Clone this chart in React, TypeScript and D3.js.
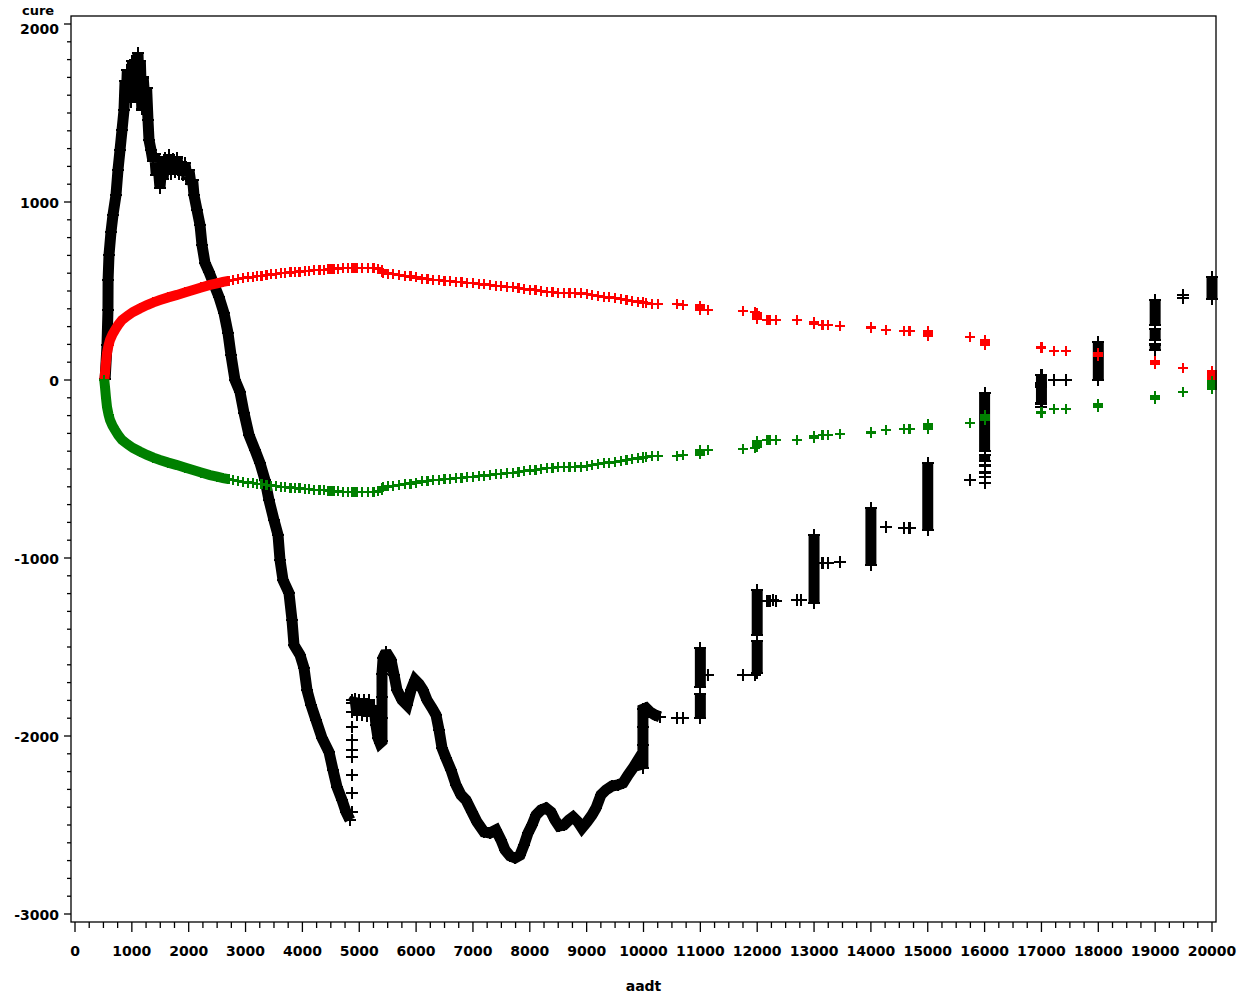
import React from 'react';
import * as d3 from 'd3';

type Pt = [number, number];

// ---------- axis values ----------
const xTickValues: number[] = [0, 1000, 2000, 3000, 4000, 5000, 6000, 7000, 8000, 9000, 10000, 11000, 12000, 13000, 14000, 15000, 16000, 17000, 18000, 19000, 20000];
const yTickValues: number[] = [-3000, -2000, -1000, 0, 1000, 2000];
const xMinorStep = 250;
const yMinorStep = 100;
const xLabel = 'aadt';
const yLabel = 'cure';

// ---------- CURE (cumulative residuals), black ----------
// dense band: rise to the peak and long descent (aadt 500 – 4840)
const cureRise: Pt[] = [
  [530, 5], [563, 197], [580, 393], [582, 562], [598, 702], [633, 831], [668, 927], [721, 1039], [756, 1180],
  [792, 1292], [827, 1404], [862, 1517], [880, 1680], [900, 1560], [920, 1740], [945, 1590], [967, 1720],
  [990, 1560], [1010, 1790], [1040, 1610], [1060, 1800], [1080, 1660], [1108, 1835], [1130, 1610],
  [1150, 1790], [1175, 1520], [1200, 1700], [1231, 1560], [1260, 1640], [1284, 1461],
  [1302, 1348], [1337, 1292], [1370, 1230], [1400, 1270], [1430, 1150], [1460, 1210], [1495, 1079],
  [1520, 1180], [1550, 1130], [1583, 1250], [1620, 1180], [1653, 1262], [1690, 1160], [1724, 1240],
  [1760, 1170], [1794, 1250], [1830, 1160], [1865, 1225], [1900, 1150], [1935, 1220], [1970, 1130],
  [2005, 1180], [2040, 1100], [2070, 1124], [2093, 1039], [2146, 955],
  [2199, 871], [2234, 758], [2287, 657], [2357, 607], [2427, 551], [2533, 466], [2621, 376], [2691, 264],
  [2744, 140], [2814, 0], [2902, -67], [2973, -185], [3061, -309], [3166, -393], [3254, -466], [3342, -562],
  [3412, -674], [3500, -787], [3571, -871], [3606, -1011], [3659, -1124], [3764, -1197], [3817, -1348],
  [3852, -1489], [3958, -1545], [4028, -1618], [4081, -1742], [4151, -1826], [4239, -1910], [4345, -2011],
  [4468, -2090], [4538, -2191], [4609, -2287], [4697, -2360], [4767, -2427], [4837, -2472],
];

// jump column at aadt ~4870 (separate observations)
const cureJump: Pt[] = [
  [4870, -1798], [4870, -1865], [4870, -1949], [4870, -2022], [4870, -2079], [4870, -2118], [4870, -2219],
  [4870, -2320], [4870, -2427],
];

// dense band: second part (aadt 4880 – 10300)
const cureTrough: Pt[] = [
  [4880, -1815], [4925, -1790], [4960, -1880], [5000, -1800], [5048, -1880], [5090, -1795], [5130, -1885],
  [5170, -1800], [5210, -1880], [5259, -1830], [5294, -1938], [5330, -2011], [5365, -2040],
  [5400, -2030], [5400, -1900], [5400, -1780], [5400, -1650],
  [5420, -1560], [5471, -1528], [5559, -1573], [5612, -1657], [5664, -1742], [5752, -1798], [5840, -1826],
  [5910, -1742], [5981, -1685], [6051, -1708], [6121, -1742], [6192, -1798], [6280, -1843], [6350, -1882],
  [6403, -1966], [6456, -2067], [6526, -2124], [6614, -2191], [6702, -2275], [6790, -2331], [6878, -2360],
  [6983, -2427], [7071, -2483], [7194, -2539], [7300, -2545], [7405, -2528], [7493, -2584], [7564, -2640],
  [7652, -2674], [7740, -2685], [7828, -2669], [7898, -2612], [7968, -2545], [8039, -2500], [8109, -2444],
  [8197, -2416], [8285, -2405], [8373, -2427], [8443, -2472], [8514, -2506], [8602, -2500], [8690, -2472],
  [8760, -2455], [8848, -2483], [8918, -2517], [9006, -2483], [9094, -2444], [9164, -2405], [9252, -2331],
  [9340, -2303], [9446, -2281], [9552, -2275], [9640, -2264], [9728, -2219], [9816, -2180], [9904, -2135],
  [9990, -2180], [9990, -2050], [9990, -1950], [9990, -1850], [10044, -1843], [10114, -1865], [10202, -1882],
  [10290, -1893],
];

// stacks of observations sharing one aadt (upper aadt range)
const cureStacks: Pt[][] = [
  [[11000, -1899], [11000, -1762]],
  [[11000, -1725], [11000, -1506]],
  [[12000, -1646], [12000, -1468]],
  [[12000, -1432], [12000, -1180]],
  [[13000, -1253], [13000, -871]],
  [[14000, -1040], [14000, -720]],
  [[15000, -843], [15000, -466]],
  [[16000, -400], [16000, -73]],
  [[16000, -455], [16000, -420]],
  [[17000, -20], [17000, 28]],
  [[17000, -132], [17000, -36]],
  [[18000, 0], [18000, 213]],
  [[19000, 310], [19000, 449]],
  [[19000, 225], [19000, 285]],
  [[19000, 169], [19000, 200]],
  [[20000, 455], [20000, 579]],
];

// single observations (upper aadt range)
const cureSingles: Pt[] = [
  [10590, -1899], [10700, -1899], [11130, -1657], [11750, -1657], [11960, -1657], [12180, -1240],
  [12230, -1240], [12280, -1236], [12330, -1240], [12700, -1236], [12770, -1236], [13150, -1028],
  [13250, -1028], [13450, -1022], [14270, -826], [14580, -832], [14680, -832], [15740, -562],
  [16000, -480], [16000, -520], [16000, -545], [16000, -579], [17000, -150], [17220, 0], [17430, 0],
  [19490, 478], [19490, 461],
];

// ---------- ±2σ bounds (red upper / green lower) ----------
const boundDense: Pt[] = [
  [515, 0], [528, 40], [545, 100], [563, 152], [590, 195], [616, 225], [660, 257], [704, 281], [760, 310],
  [827, 337], [920, 360], [1020, 382], [1140, 402], [1266, 421], [1380, 436], [1495, 449], [1640, 464],
  [1794, 478], [1930, 492], [2076, 506], [2220, 520], [2375, 534], [2500, 543], [2603, 551], [2700, 557],
];

const boundPoints: Pt[] = [
  [2780, 562], [2870, 567], [2950, 571], [3050, 576], [3130, 580], [3200, 583], [3280, 586], [3370, 590],
  [3450, 593], [3540, 596], [3620, 599], [3700, 601], [3790, 604], [3870, 607], [3950, 609], [4040, 612],
  [4120, 614], [4200, 616], [4300, 618], [4380, 620], [4460, 622], [4500, 623], [4520, 624], [4550, 624],
  [4630, 626], [4720, 628], [4800, 629], [4870, 630], [4900, 630], [4950, 630], [5050, 629], [5150, 628],
  [5250, 627], [5330, 626], [5400, 620], [5400, 612], [5400, 605], [5420, 600], [5500, 598], [5600, 594],
  [5700, 590], [5800, 586], [5900, 582], [6000, 576], [6100, 570], [6200, 567], [6300, 563], [6400, 560],
  [6500, 558], [6600, 555], [6700, 552], [6800, 550], [6900, 547], [7000, 545], [7100, 541], [7200, 537],
  [7300, 534], [7400, 530], [7500, 527], [7600, 524], [7700, 521], [7800, 517], [7900, 513], [8000, 508],
  [8100, 504], [8200, 499], [8300, 495], [8400, 493], [8500, 491], [8600, 490], [8700, 489], [8800, 488],
  [8900, 486], [9000, 482], [9100, 477], [9200, 472], [9300, 468], [9400, 464], [9500, 460], [9600, 456],
  [9700, 451], [9800, 446], [9900, 441], [9990, 437], [9990, 432], [10050, 431], [10150, 429], [10250, 426],
  [10590, 425], [10700, 423], [11000, 418], [11000, 410], [11000, 402], [11000, 395], [11130, 392],
  [11750, 388], [11960, 382], [12000, 374], [12000, 366], [12000, 358], [12000, 350], [12000, 343],
  [12180, 337], [12230, 337], [12330, 337], [12700, 335], [13000, 326], [13000, 320], [13000, 314],
  [13150, 309], [13250, 309], [13450, 303], [14000, 297], [14000, 290], [14270, 281], [14580, 275],
  [14680, 275], [15000, 275], [15000, 266], [15000, 257], [15000, 248], [15740, 242], [16000, 222],
  [16000, 214], [16000, 206], [16000, 198], [17000, 186], [17000, 178], [17220, 163], [17430, 163],
  [18000, 152], [18000, 144], [18000, 136], [19000, 108], [19000, 98], [19000, 88], [19490, 67],
  [20000, 52], [20000, 44], [20000, 36], [20000, 28], [20000, 20], [20000, 12], [20000, 4],
];

// ---------- layout ----------
const W = 1243;
const H = 994;
const x = d3.scaleLinear().domain([0, 20000]).range([75, 1212]);
const y = d3.scaleLinear().domain([-3000, 2000]).range([914, 24]);
const frame = { left: x(0) - 4, right: x(20000) + 4, top: y(2000) - 8, bottom: y(-3000) + 8 };

const BLACK = '#000000';
const RED = '#ff0000';
const GREEN = '#008000';
const FONT = '"DejaVu Sans", Verdana, sans-serif';

const line = d3.line<Pt>().x((d) => x(d[0])).y((d) => y(d[1]));
const plusPath = (pts: Pt[], s: number) =>
  pts.map(([a, b]) => `M${x(a) - s},${y(b)}h${2 * s}M${x(a)},${y(b) - s}v${2 * s}`).join('');
const neg = (pts: Pt[]): Pt[] => pts.map(([a, b]) => [a, -b] as Pt);

function Series({ runs, singles, color, width, size }: { runs: Pt[][]; singles: Pt[]; color: string; width: number; size: number }) {
  const all = runs.flat().concat(singles);
  return (
    <g>
      {runs.map((r, i) => (
        <path key={i} d={line(r) || ''} fill="none" stroke={color} strokeWidth={width} strokeLinejoin="miter" strokeMiterlimit={2} strokeLinecap="butt" />
      ))}
      <path d={plusPath(all, size)} fill="none" stroke={color} strokeWidth={2.2} shapeRendering="crispEdges" />
    </g>
  );
}

export default function App() {
  const xMinor = d3.range(0, 20001, xMinorStep).filter((v) => v % 1000 !== 0);
  const yMinor = d3.range(-3000, 2001, yMinorStep).filter((v) => v % 1000 !== 0);
  const yMax = yTickValues[yTickValues.length - 1];
  return (
    <svg width={W} height={H} style={{ position: 'absolute', left: 0, top: 0, background: '#fff' }}>
      <rect x={0} y={0} width={W} height={H} fill="#fff" />
      {/* data */}
      <Series runs={[cureRise, cureTrough, ...cureStacks]} singles={cureJump.concat(cureSingles)} color={BLACK} width={11} size={6} />
      <Series runs={[boundDense]} singles={boundPoints} color={RED} width={10} size={5} />
      <Series runs={[neg(boundDense)]} singles={neg(boundPoints)} color={GREEN} width={10} size={5} />
      {/* frame */}
      <rect x={frame.left} y={frame.top} width={frame.right - frame.left} height={frame.bottom - frame.top} fill="none" stroke="#000" strokeWidth={1.3} />
      {/* ticks */}
      <g stroke="#000" strokeWidth={1.3}>
        {yMinor.map((v) => (
          <line key={'ym' + v} x1={frame.left - 4} x2={frame.left} y1={y(v)} y2={y(v)} />
        ))}
        {yTickValues.map((v) => (
          <line key={'yM' + v} x1={frame.left - 7} x2={frame.left} y1={y(v)} y2={y(v)} />
        ))}
        {xMinor.map((v) => (
          <line key={'xm' + v} x1={x(v)} x2={x(v)} y1={frame.bottom} y2={frame.bottom + 6} />
        ))}
        {xTickValues.map((v) => (
          <line key={'xM' + v} x1={x(v)} x2={x(v)} y1={frame.bottom} y2={frame.bottom + 10} />
        ))}
      </g>
      <g fontFamily={FONT} fontWeight="bold" fontSize={14} fill="#000">
        {yTickValues.map((v) => (
          <text key={'yl' + v} x={59} y={y(v) + (v === yMax ? 10 : 6)} textAnchor="end">{String(v)}</text>
        ))}
        {xTickValues.map((v) => (
          <text key={'xl' + v} x={x(v)} y={956} textAnchor="middle">{String(v)}</text>
        ))}
        <text x={22} y={15} fontSize={13}>{yLabel}</text>
        <text x={(x(0) + x(20000)) / 2} y={991} textAnchor="middle">{xLabel}</text>
      </g>
    </svg>
  );
}
